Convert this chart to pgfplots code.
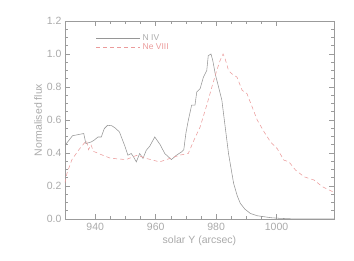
\documentclass[border=0pt]{standalone}
\usepackage{pgfplots}
\pgfplotsset{compat=1.18}
\usepackage{fontspec}
\setmainfont{Liberation Sans}
\definecolor{axc}{RGB}{155,155,155}
\definecolor{txc}{RGB}{170,170,170}
\definecolor{niv}{RGB}{150,150,150}
\definecolor{nev}{RGB}{235,155,155}
\begin{document}
\begin{tikzpicture}
\useasboundingbox (0pt,0pt) rectangle (354pt,261pt);
\begin{axis}[
  at={(65pt,42pt)}, anchor=south west,
  scale only axis, width=269pt, height=198pt,
  xmin=930, xmax=1019, ymin=0, ymax=1.2,
  xtick={940,960,980,1000}, ytick={0,0.2,0.4,0.6,0.8,1.0,1.2},
  minor x tick num=3, minor y tick num=3,
  tick align=inside, major tick length=5pt, minor tick length=3pt,
  axis line style={axc, line width=0.5pt},
  every tick/.style={axc, line width=0.5pt},
  tick label style={font=\fontsize{10.5}{12}\selectfont, text=txc},
  yticklabel style={/pgf/number format/.cd, fixed, fixed zerofill, precision=1, assume math mode=true},
  xticklabel style={yshift=-1pt, /pgf/number format/.cd, fixed, 1000 sep={}, assume math mode=true},
  label style={font=\fontsize{10.5}{12}\selectfont, text=txc},
  xlabel={solar Y (arcsec)}, ylabel={Normalised flux},
  xlabel style={yshift=2pt}, ylabel style={yshift=-2pt},
  legend style={draw=none, fill=none, at={(rel axis cs:0.115,0.94)}, anchor=north west,
    font=\fontsize{8.5}{9}\selectfont, row sep=-3pt, inner sep=0pt},
  legend cell align=left,
  legend image code/.code={\draw[#1] (0pt,0pt) -- (44pt,0pt);},
]
\addplot[niv, line width=0.55pt] coordinates {
(930,0.447) (931,0.47) (932.5,0.505) (934,0.51) (936.2,0.518) (936.9,0.457)
(938.7,0.467) (939.8,0.48) (940.9,0.497) (942,0.497) (943,0.548) (944.1,0.568)
(945.5,0.565) (946.5,0.553) (948,0.528) (949.7,0.447) (950.8,0.387) (951.9,0.397)
(952.7,0.376) (953.6,0.346) (954.7,0.397) (955.8,0.367) (956.9,0.417) (958,0.44)
(959.7,0.497) (961.5,0.45) (963,0.397) (965.2,0.36) (966.9,0.387) (968.6,0.407)
(969.3,0.42) (970,0.52) (970.8,0.598) (971.9,0.69) (973,0.69) (973.6,0.77) (974.7,0.79)
(975.8,0.86) (976.9,0.90) (977.4,0.99) (978.3,1.00) (978.9,0.96) (979.7,0.88)
(980.8,0.80) (981.9,0.72) (983,0.558) (984.1,0.397) (985,0.30) (985.8,0.215)
(987,0.14) (988,0.095) (989.5,0.06) (991.3,0.034) (993.5,0.02) (995.8,0.014)
(998,0.008) (1001,0.004) (1005,0.001) (1010,0) (1019,0)
};
\addlegendentry{\textcolor{txc}{N IV}}
\addplot[nev, line width=0.55pt, dash pattern=on 4pt off 3pt] coordinates {
(930,0.22) (930.7,0.28) (932.3,0.36) (934.6,0.42) (936.4,0.46) (937.1,0.475)
(937.8,0.42) (938.6,0.45) (939.4,0.41) (942,0.39) (944.8,0.37) (947,0.365)
(950.2,0.36) (953.6,0.385) (955,0.38) (956.9,0.367) (959,0.357) (961.3,0.346)
(964.7,0.367) (968,0.387) (970.8,0.397) (972.4,0.467) (974.7,0.558) (976.9,0.69)
(978.6,0.80) (980.2,0.90) (981.3,0.96) (982.3,1.00) (983,0.97) (984.1,0.90)
(985.2,0.88) (986.9,0.86) (988.6,0.78) (990.2,0.76) (991.9,0.68) (993.6,0.60)
(995.8,0.53) (998,0.467) (1000.2,0.427) (1002.4,0.357) (1004.1,0.346)
(1006.3,0.296) (1009.1,0.256) (1012.4,0.236) (1015.2,0.195) (1018.6,0.165) (1019,0.16)
};
\addlegendentry{\textcolor{nev}{Ne VIII}}
\end{axis}
\end{tikzpicture}
\end{document}
